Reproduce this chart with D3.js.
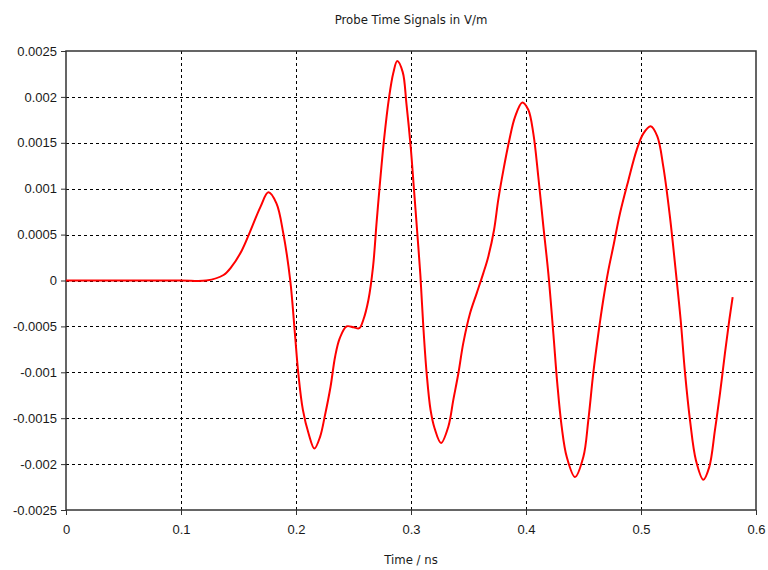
<!DOCTYPE html>
<html>
<head>
<meta charset="utf-8">
<script src="https://cdn.jsdelivr.net/npm/d3@7"></script>
<style>
  body { margin: 0; background: #fff; }
  svg { font-family: "DejaVu Sans Condensed", "DejaVu Sans", sans-serif; }
</style>
</head>
<body>
<svg id="chart" width="768" height="570"></svg>
<script>
// temps en ns
const timeNs = [0, 0.05, 0.1, 0.122, 0.137, 0.144, 0.153, 0.160, 0.169, 0.176, 0.183, 0.189,
  0.195, 0.199, 0.202, 0.206, 0.211, 0.216, 0.221, 0.225, 0.230, 0.234, 0.238, 0.244,
  0.250, 0.255, 0.2585, 0.263, 0.267, 0.270, 0.273, 0.2765, 0.281, 0.2846, 0.288,
  0.2928, 0.296, 0.2997, 0.3026, 0.3055, 0.3082, 0.3107, 0.3136, 0.317, 0.3205,
  0.3261, 0.3325, 0.3368, 0.3412, 0.3455, 0.3513, 0.3571, 0.3629, 0.3672, 0.3722,
  0.3759, 0.3803, 0.3855, 0.3904, 0.3968, 0.402, 0.4064, 0.4107, 0.4151, 0.4194,
  0.4238, 0.4272, 0.431, 0.4354, 0.4426, 0.4499, 0.4542, 0.4585, 0.4629, 0.4672,
  0.4716, 0.4759, 0.4817, 0.489, 0.4962, 0.502, 0.5084, 0.5142, 0.5194, 0.5252,
  0.5304, 0.5345, 0.5383, 0.5426, 0.5478, 0.5542, 0.5594, 0.5643, 0.5687, 0.573,
  0.5768, 0.5797];

// champ en V/m
const fieldValues = [0, 0, 0, 0, 0.00006, 0.00015, 0.00033, 0.00053, 0.0008, 0.00096, 0.00084, 0.00051,
  0, -0.00057, -0.00101, -0.00141, -0.00167, -0.00183, -0.0017, -0.00148, -0.00116, -0.00083, -0.00063, -0.0005,
  -0.00051, -0.00052, -0.00043, -0.00021, 0.00015, 0.00062, 0.00106, 0.00153, 0.002, 0.00226, 0.00239,
  0.00227, 0.00193, 0.00146, 0.00099, 0.00051, 0.00005, -0.0005, -0.00101, -0.00141, -0.00161,
  -0.00177, -0.00159, -0.0013, -0.00101, -0.00068, -0.00036, -0.00014, 0.00008, 0.00026, 0.00055,
  0.00088, 0.0012, 0.00153, 0.00178, 0.00194, 0.00186, 0.0016, 0.00113, 0.00059, 0.00008,
  -0.00058, -0.00112, -0.00159, -0.00192, -0.00214, -0.00192, -0.00152, -0.00101, -0.00058, -0.00021,
  0.00011, 0.00037, 0.00073, 0.00109, 0.00142, 0.0016, 0.00168, 0.00157, 0.00124, 0.00069,
  0.00008, -0.00043, -0.00101, -0.00152, -0.00196, -0.00217, -0.00203, -0.00163, -0.00123, -0.00079,
  -0.00043, -0.00018];

const xTicks = [0, 0.1, 0.2, 0.3, 0.4, 0.5, 0.6];
const yTicks = [-0.0025, -0.002, -0.0015, -0.001, -0.0005, 0, 0.0005, 0.001, 0.0015, 0.002, 0.0025];

const titre = "Probe Time Signals in V/m";
const xLabel = "Time / ns";

const margin = {left: 66, right: 12, top: 51, bottom: 60};
const WIDTH = 768, HEIGHT = 570;
const svg = d3.select("#chart");

const x = d3.scaleLinear().domain([0, 0.6]).range([margin.left, WIDTH - margin.right]);
const y = d3.scaleLinear().domain([-0.0025, 0.0025]).range([HEIGHT - margin.bottom, margin.top]);

// grille pointillée
const grid = svg.append("g");
grid.selectAll(".vgrid").data(xTicks.slice(1, -1)).enter().append("line")
    .attr("x1", d => Math.round(x(d)) + 0.5).attr("x2", d => Math.round(x(d)) + 0.5)
    .attr("y1", y(0.0025)).attr("y2", y(-0.0025))
    .attr("stroke", "#000").attr("stroke-dasharray", "3,3").attr("stroke-width", 1);
grid.selectAll(".hgrid").data(yTicks.slice(1, -1)).enter().append("line")
    .attr("y1", d => Math.round(y(d)) + 0.5).attr("y2", d => Math.round(y(d)) + 0.5)
    .attr("x1", x(0)).attr("x2", x(0.6))
    .attr("stroke", "#000").attr("stroke-dasharray", "3,3").attr("stroke-width", 1);

// axes
const xAxis = svg.append("g")
    .attr("transform", "translate(0," + y(-0.0025) + ")")
    .call(d3.axisBottom(x).tickValues(xTicks).tickSize(5).tickPadding(10).tickFormat(d3.format("")));
const yAxis = svg.append("g")
    .attr("transform", "translate(" + x(0) + ",0)")
    .call(d3.axisLeft(y).tickValues(yTicks).tickSize(5).tickPadding(4).tickFormat(d => d === 0 ? "0" : String(+d.toFixed(4))));

[xAxis, yAxis].forEach(function(a) {
    a.select(".domain").remove();
    a.selectAll("line").attr("stroke", "#333");
    a.selectAll("text").attr("fill", "#1a1a1a").style("font-size", "13px");
});

// cadre
svg.append("rect")
    .attr("x", x(0)).attr("y", y(0.0025))
    .attr("width", x(0.6) - x(0)).attr("height", y(-0.0025) - y(0.0025))
    .attr("fill", "none").attr("stroke", "#333").attr("stroke-width", 1.5);

// courbe
const lineGen = d3.line()
    .x((d, i) => x(timeNs[i]))
    .y(d => y(d))
    .curve(d3.curveCatmullRom.alpha(0.5));

svg.append("path")
    .attr("d", lineGen(fieldValues))
    .attr("fill", "none")
    .attr("stroke", "#ff0000")
    .attr("stroke-width", 2);

svg.append("text")
    .attr("x", (x(0) + x(0.6)) / 2).attr("y", 24)
    .attr("text-anchor", "middle").style("font-size", "13px").attr("fill", "#1a1a1a")
    .text(titre);

svg.append("text")
    .attr("x", (x(0) + x(0.6)) / 2).attr("y", 564)
    .attr("text-anchor", "middle").style("font-size", "13px").attr("fill", "#1a1a1a")
    .text(xLabel);
</script>
</body>
</html>
